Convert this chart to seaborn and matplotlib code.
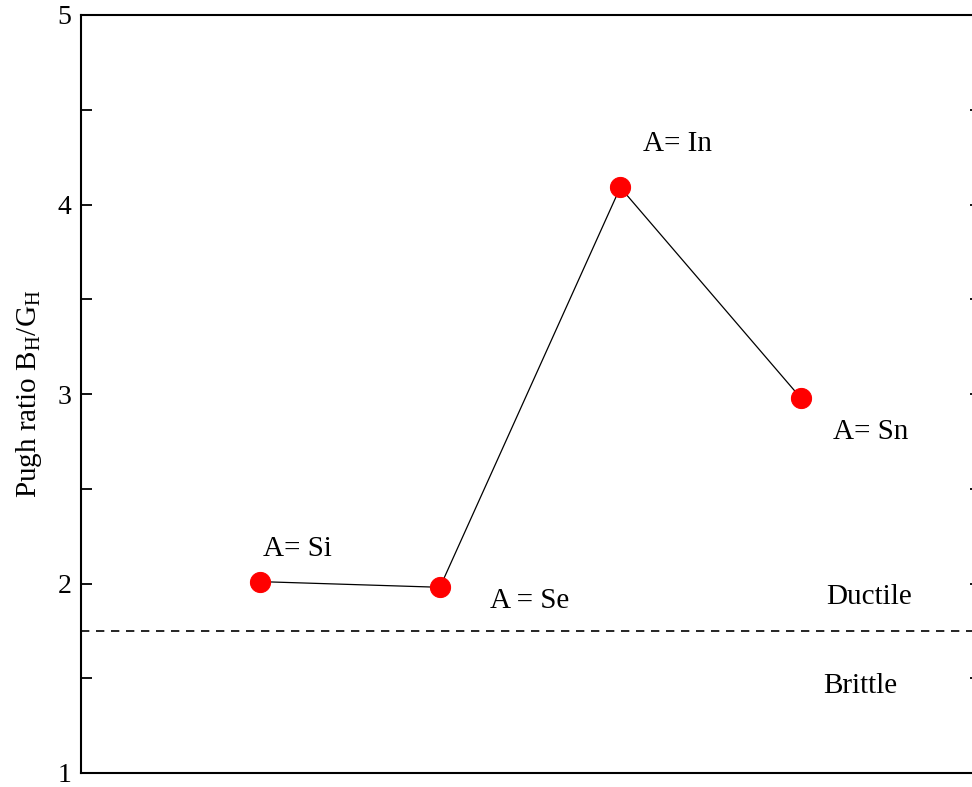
import matplotlib
matplotlib.use("Agg")
import matplotlib.pyplot as plt
import seaborn as sns
import pandas as pd
from matplotlib.ticker import MultipleLocator, NullLocator

# Pugh ratio for each A-site substitution
elements = ["Si", "Se", "In", "Sn"]
positions = [1, 2, 3, 4]
pugh_ratio = [2.01, 1.98, 4.09, 2.98]
labels = ["A= Si", "A = Se", "A= In", "A= Sn"]
label_x = [1.21, 2.50, 3.32, 4.39]
label_y = [2.18, 1.91, 4.32, 2.80]
critical_ratio = 1.75

sns.set_theme(style="white")
plt.rcParams["font.family"] = ["Liberation Serif", "DejaVu Serif"]
plt.rcParams["mathtext.fontset"] = "custom"
plt.rcParams["mathtext.rm"] = "Liberation Serif"
plt.rcParams["mathtext.it"] = "Liberation Serif:italic"
plt.rcParams["text.color"] = "black"
plt.rcParams["axes.labelcolor"] = "black"
plt.rcParams["ytick.color"] = "black"
plt.rcParams["ytick.labelcolor"] = "black"

df = pd.DataFrame({"x": positions, "ratio": pugh_ratio, "element": elements})

fig = plt.figure(figsize=(9.72, 7.87), dpi=100)
ax = fig.add_axes([81 / 972, 1 - 773 / 787, 900 / 972, 758 / 787])

sns.lineplot(data=df, x="x", y="ratio", ax=ax, color="black", linewidth=0.9,
             marker="o", markersize=14.5, markerfacecolor="red",
             markeredgecolor="red", sort=False)

ax.axhline(critical_ratio, color="black", linestyle=(0, (5, 4)), linewidth=1.2)

for t, xx, yy in zip(labels, label_x, label_y):
    ax.text(xx, yy, t, fontsize=21, ha="center", va="center", color="black")

ax.text(4.38, 1.93, "Ductile", fontsize=21, ha="center", va="center", color="black")
ax.text(4.33, 1.46, "Brittle", fontsize=21, ha="center", va="center", color="black")

ax.set_xlim(0.01, 5)
ax.set_ylim(1, 5)
ax.xaxis.set_major_locator(NullLocator())
ax.yaxis.set_major_locator(MultipleLocator(1))
ax.yaxis.set_minor_locator(MultipleLocator(0.5))
ax.tick_params(axis="y", which="both", direction="in", left=True, right=True,
               length=8, width=1.3, color="black", labelcolor="black",
               labelsize=20, pad=7)
ax.set_xlabel("")
ax.set_ylabel(r"Pugh ratio B$_\mathregular{H}$/G$_\mathregular{H}$",
              fontsize=21, labelpad=10, color="black")

for s in ax.spines.values():
    s.set_color("black")
    s.set_linewidth(1.5)
    s.set_visible(True)

fig.savefig("out.png", dpi=100)
